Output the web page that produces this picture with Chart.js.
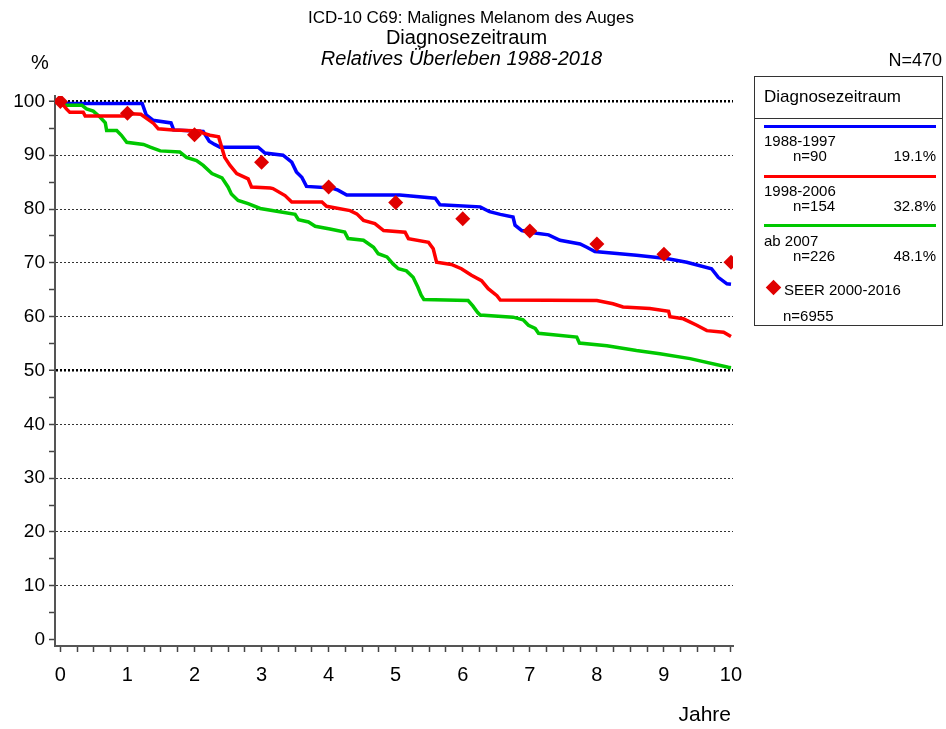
<!DOCTYPE html>
<html>
<head>
<meta charset="utf-8">
<title>Malignes Melanom des Auges</title>
<script src="https://cdn.jsdelivr.net/npm/chart.js@4.4.0/dist/chart.umd.min.js"></script>
<style>
  body { margin: 0; background: #fff; }
  #wrap { position: relative; width: 946px; height: 729px; font-family: 'Liberation Sans', Arial, sans-serif; color: #000; overflow: hidden; }
  #chart { position: absolute; left: 0; top: 0; }
  .t { position: absolute; white-space: nowrap; line-height: 1; }
  .c { text-align: center; left: 0; }
  #legend { position: absolute; left: 754px; top: 76px; width: 189px; height: 250px; border: 1px solid #333; box-sizing: border-box; }
  .lg { font-size: 15px; }
  .bar { position: absolute; left: 764px; width: 172px; height: 3px; }
  .diamond { position: absolute; width: 11px; height: 11px; background: #e00000; transform: rotate(45deg); }
</style>
</head>
<body>
<div id="wrap">
  <canvas id="chart" width="946" height="729"></canvas>

  <div class="t c" style="top:9px; width:942px; font-size:17px;">ICD-10 C69: Malignes Melanom des Auges</div>
  <div class="t c" style="top:27px; width:933px; font-size:20px;">Diagnosezeitraum</div>
  <div class="t c" style="top:48px; width:923px; font-size:20px; font-style:italic;">Relatives Überleben 1988-2018</div>
  <div class="t" style="top:52px; left:31px; font-size:20px;">%</div>
  <div class="t" style="top:51px; right:4px; font-size:18px;">N=470</div>
  <div class="t" style="top:703px; right:215px; font-size:21px;">Jahre</div>

  <div id="legend"></div>
  <div class="t" style="top:88px; left:764px; font-size:17px;">Diagnosezeitraum</div>
  <div style="position:absolute; left:754px; top:118px; width:189px; height:1px; background:#333;"></div>

  <div class="bar" style="top:125px; background:#0000ff;"></div>
  <div class="t lg" style="top:133px; left:764px;">1988-1997</div>
  <div class="t lg" style="top:148px; left:793px;">n=90</div>
  <div class="t lg" style="top:148px; right:10px;">19.1%</div>

  <div class="bar" style="top:175px; background:#ff0000;"></div>
  <div class="t lg" style="top:183px; left:764px;">1998-2006</div>
  <div class="t lg" style="top:198px; left:793px;">n=154</div>
  <div class="t lg" style="top:198px; right:10px;">32.8%</div>

  <div class="bar" style="top:224px; background:#00c800;"></div>
  <div class="t lg" style="top:233px; left:764px;">ab 2007</div>
  <div class="t lg" style="top:248px; left:793px;">n=226</div>
  <div class="t lg" style="top:248px; right:10px;">48.1%</div>

  <div class="diamond" style="left:768px; top:282px;"></div>
  <div class="t lg" style="top:282px; left:784px;">SEER 2000-2016</div>
  <div class="t lg" style="top:308px; left:783px;">n=6955</div>
</div>

<script>
// Jahre seit Diagnose / relatives Ueberleben in %
const blueT = [0, 0.03, 1.22, 1.28, 1.38, 1.65, 1.69, 2.13, 2.22, 2.30, 2.38, 2.95, 3.05, 3.32, 3.45, 3.52, 3.60, 3.67, 4.05, 4.14, 4.27, 5.06, 5.59, 5.66, 6.26, 6.40, 6.56, 6.75, 6.78, 6.88, 7.10, 7.28, 7.45, 7.75, 7.85, 7.97, 8.59, 9.04, 9.34, 9.71, 9.81, 9.94, 10.0];
const blueV = [100, 99.6, 99.6, 97.5, 96.5, 96.0, 94.7, 94.4, 92.6, 92.0, 91.5, 91.5, 90.4, 90.0, 88.7, 86.9, 85.9, 84.2, 83.9, 83.5, 82.6, 82.6, 82.0, 80.8, 80.4, 79.5, 79.0, 78.5, 77.0, 76.0, 75.5, 75.2, 74.2, 73.5, 72.9, 72.1, 71.4, 70.8, 70.1, 68.9, 67.3, 66.1, 66.0];

const redT = [0, 0.09, 0.14, 0.34, 0.37, 0.94, 1.05, 1.20, 1.29, 1.39, 1.46, 1.68, 2.08, 2.13, 2.23, 2.36, 2.45, 2.53, 2.63, 2.80, 2.85, 3.13, 3.17, 3.35, 3.45, 3.90, 3.97, 4.32, 4.42, 4.52, 4.69, 4.82, 5.14, 5.19, 5.49, 5.56, 5.61, 5.83, 5.98, 6.13, 6.28, 6.38, 6.51, 6.56, 8.00, 8.24, 8.39, 8.79, 9.07, 9.09, 9.29, 9.49, 9.64, 9.89, 10.0];
const redV = [100, 98.6, 98.0, 98.0, 97.3, 97.3, 97.7, 97.6, 96.8, 95.9, 94.9, 94.7, 94.5, 94.1, 93.7, 93.4, 89.6, 88.1, 86.6, 85.6, 84.1, 83.9, 83.8, 82.5, 81.3, 81.3, 80.5, 79.7, 79.1, 77.9, 77.3, 76.0, 75.7, 74.5, 73.8, 72.6, 70.1, 69.7, 68.9, 67.7, 66.7, 65.2, 63.9, 63.1, 63.0, 62.4, 61.8, 61.5, 61.0, 60.0, 59.6, 58.4, 57.4, 57.1, 56.3];

const greenT = [0, 0.02, 0.32, 0.39, 0.49, 0.59, 0.67, 0.69, 0.84, 0.91, 0.99, 1.24, 1.34, 1.49, 1.78, 1.88, 2.03, 2.13, 2.26, 2.41, 2.50, 2.55, 2.65, 2.80, 2.98, 3.27, 3.50, 3.55, 3.70, 3.80, 4.02, 4.24, 4.29, 4.52, 4.67, 4.74, 4.87, 4.96, 5.04, 5.16, 5.26, 5.33, 5.38, 5.42, 6.08, 6.15, 6.22, 6.26, 6.75, 6.90, 6.98, 7.08, 7.13, 7.70, 7.74, 8.15, 8.59, 8.94, 9.39, 9.96, 10.0];
const greenV = [100, 99.3, 99.3, 98.6, 98.2, 97.1, 96.0, 94.6, 94.6, 93.7, 92.4, 92.0, 91.5, 90.8, 90.6, 89.6, 89.0, 88.1, 86.6, 85.8, 84.1, 82.8, 81.6, 81.0, 80.1, 79.5, 79.0, 78.0, 77.6, 76.8, 76.3, 75.7, 74.5, 74.2, 72.9, 71.7, 71.1, 69.8, 68.9, 68.5, 67.3, 65.5, 64.0, 63.2, 63.0, 62.0, 60.8, 60.3, 59.9, 59.4, 58.4, 57.8, 56.9, 56.2, 55.1, 54.6, 53.7, 53.1, 52.2, 50.6, 50.5];

const seerT = [0, 1, 2, 3, 4, 5, 6, 7, 8, 9, 10];
const seerV = [100, 97.8, 93.8, 88.7, 84.1, 81.2, 78.2, 75.9, 73.5, 71.6, 70.1];

// tick positions
const xTicks = [];
for (let i = 0; i <= 40; i++) xTicks.push(i / 4);
const yTicks = [];
for (let i = 0; i <= 20; i++) yTicks.push(i * 5);

const toPoints = (ts, vs) => ts.map((t, i) => ({ x: t, y: vs[i] }));

const lineDs = (label, ts, vs, color) => ({
    label,
    data: toPoints(ts, vs),
    borderColor: color,
    backgroundColor: color,
    borderWidth: 3.5,
    pointRadius: 0,
    tension: 0,
    fill: false
});

const FONT = "'Liberation Sans', Arial, sans-serif";

new Chart(document.getElementById('chart'), {
    type: 'line',
    data: {
        datasets: [
            {
                label: 'SEER 2000-2016',
                data: toPoints(seerT, seerV),
                showLine: false,
                pointStyle: 'rectRot',
                pointRadius: 7.5,
                pointBackgroundColor: '#e00000',
                pointBorderColor: '#e00000',
                pointBorderWidth: 0
            },
            lineDs('1998-2006', redT, redV, '#ff0000'),
            lineDs('ab 2007', greenT, greenV, '#00c800'),
            lineDs('1988-1997', blueT, blueV, '#0000ff')
        ]
    },
    options: {
        responsive: false,
        animation: false,
        devicePixelRatio: 1,
        layout: { padding: { top: 96, right: 213, left: 0, bottom: 0 } },
        plugins: {
            legend: { display: false },
            tooltip: { enabled: false },
            title: { display: false }
        },
        scales: {
            x: {
                type: 'linear',
                min: -0.08,
                max: 10.03,
                afterBuildTicks: scale => { scale.ticks = xTicks.map(v => ({ value: v })); },
                afterFit: scale => { scale.height = 83; },
                ticks: {
                    autoSkip: false,
                    maxRotation: 0,
                    padding: 11,
                    color: '#000',
                    font: { family: FONT, size: 20 },
                    callback: v => Number.isInteger(v) ? String(v) : ''
                },
                grid: {
                    drawOnChartArea: false,
                    drawTicks: true,
                    tickLength: 6,
                    tickColor: '#444',
                    tickWidth: 1.5
                },
                border: { display: true, color: '#555', width: 2 }
            },
            y: {
                type: 'linear',
                min: -1.2,
                max: 101,
                afterBuildTicks: scale => { scale.ticks = yTicks.map(v => ({ value: v })); },
                afterFit: scale => { scale.width = 55; },
                ticks: {
                    autoSkip: false,
                    padding: 4,
                    color: '#000',
                    font: { family: FONT, size: 19 },
                    callback: v => v % 10 === 0 ? String(v) : ''
                },
                grid: {
                    drawOnChartArea: true,
                    drawTicks: true,
                    tickLength: 6,
                    tickColor: '#444',
                    tickWidth: 1.5,
                    color: ctx => {
                        const v = ctx.tick ? ctx.tick.value : null;
                        if (v === null || v === 0 || v % 10 !== 0) return 'rgba(0,0,0,0)';
                        return (v === 100 || v === 50) ? '#000' : '#333';
                    },
                    lineWidth: ctx => {
                        const v = ctx.tick ? ctx.tick.value : null;
                        return (v === 100 || v === 50) ? 2.5 : 1;
                    }
                },
                border: { display: true, color: '#555', width: 2, dash: [2, 2] }
            }
        }
    }
});
</script>
</body>
</html>
